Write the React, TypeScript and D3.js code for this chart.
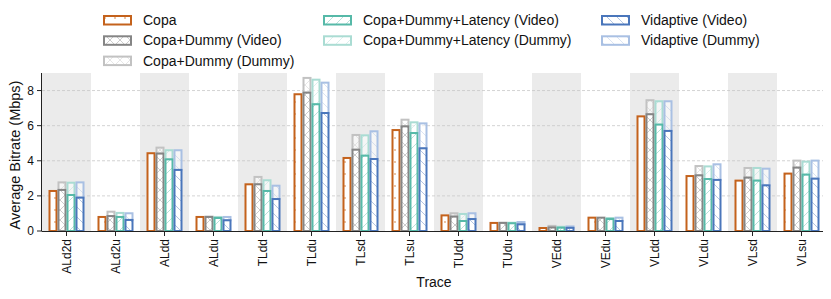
import React from 'react';
import * as d3 from 'd3';

// traces on the x axis
const traces = ['ALd2d', 'ALd2u', 'ALdd', 'ALdu', 'TLdd', 'TLdu', 'TLsd', 'TLsu',
    'TUdd', 'TUdu', 'VEdd', 'VEdu', 'VLdd', 'VLdu', 'VLsd', 'VLsu'];

// average bitrate (Mbps), video flow
const copa = [2.28, 0.80, 4.43, 0.80, 2.66, 7.79, 4.16, 5.75, 0.89, 0.46, 0.17, 0.76, 6.53, 3.13, 2.87, 3.27];
const copaDummyVideo = [2.34, 0.85, 4.41, 0.80, 2.66, 7.88, 4.63, 5.96, 0.82, 0.46, 0.20, 0.76, 6.65, 3.17, 3.04, 3.61];
const copaDummyLatVideo = [2.05, 0.80, 4.08, 0.74, 2.28, 7.22, 4.29, 5.58, 0.57, 0.44, 0.19, 0.68, 6.06, 2.96, 2.87, 3.21];
const vidaptiveVideo = [1.90, 0.63, 3.48, 0.61, 1.82, 6.72, 4.10, 4.71, 0.68, 0.38, 0.18, 0.57, 5.70, 2.91, 2.60, 2.98];

// dummy flow, stacked on top of the video flow
const copaDummyDummy = [0.43, 0.25, 0.34, 0.02, 0.42, 0.84, 0.84, 0.38, 0.19, 0.01, 0.09, 0.00, 0.80, 0.53, 0.55, 0.40];
const copaDummyLatDummy = [0.70, 0.23, 0.52, 0.06, 0.61, 1.40, 1.16, 0.61, 0.40, 0.03, 0.05, 0.06, 1.33, 0.72, 0.72, 0.74];
const vidaptiveDummy = [0.87, 0.38, 1.12, 0.19, 0.76, 1.73, 1.58, 1.42, 0.33, 0.13, 0.08, 0.19, 1.69, 0.89, 0.95, 1.03];

const yTicks = [0, 2, 4, 6, 8];

const groups = [
    {key: 'copa', video: copa, dummy: null, color: '#c4621c', light: null, hatch: 'dot', label: 'Copa', dLabel: null},
    {key: 'cd', video: copaDummyVideo, dummy: copaDummyDummy, color: '#858585', light: '#c2c2c2', hatch: 'x',
        label: 'Copa+Dummy (Video)', dLabel: 'Copa+Dummy (Dummy)'},
    {key: 'cdl', video: copaDummyLatVideo, dummy: copaDummyLatDummy, color: '#56b9a8', light: '#aadcd3', hatch: 'fwd',
        label: 'Copa+Dummy+Latency (Video)', dLabel: 'Copa+Dummy+Latency (Dummy)'},
    {key: 'vid', video: vidaptiveVideo, dummy: vidaptiveDummy, color: '#4a76bb', light: '#a9c0e3', hatch: 'back',
        label: 'Vidaptive (Video)', dLabel: 'Vidaptive (Dummy)'},
];

const W = 831, H = 299;
const left = 42, right = 826, top = 73, bottom = 231;
const font = '"Liberation Sans", Arial, Helvetica, sans-serif';

function Pattern({id, kind, color}: {id: string, kind: string, color: string}) {
    const s = 10;
    const sw = 0.6, op = 0.7;
    let body;
    if (kind === 'dot') {
        body = <circle cx={5} cy={6} r={0.9} fill={color}/>;
    } else if (kind === 'x') {
        body = <g stroke={color} strokeWidth={sw} opacity={op}>
            <line x1={0} y1={0} x2={s} y2={s}/>
            <line x1={s} y1={0} x2={0} y2={s}/>
        </g>;
    } else if (kind === 'fwd') {
        body = <g stroke={color} strokeWidth={sw} opacity={op}>
            <line x1={0} y1={s} x2={s} y2={0}/>
            <line x1={-s} y1={s} x2={0} y2={0}/>
            <line x1={s} y1={2 * s} x2={2 * s} y2={s}/>
        </g>;
    } else {
        body = <g stroke={color} strokeWidth={sw} opacity={op}>
            <line x1={0} y1={0} x2={s} y2={s}/>
            <line x1={-s} y1={0} x2={0} y2={s}/>
            <line x1={s} y1={-s} x2={2 * s} y2={0}/>
        </g>;
    }
    return <pattern id={id} patternUnits="userSpaceOnUse" width={s} height={kind === 'dot' ? 12 : s}>{body}</pattern>;
}

export default function App() {
    const x = d3.scaleBand<string>().domain(traces).range([left, right]).paddingInner(0).paddingOuter(0);
    const inner = d3.scaleBand<string>().domain(groups.map(g => g.key)).range([-18, 18]).padding(0);
    const y = d3.scaleLinear().domain([0, 9]).range([bottom, top]);
    const bw = inner.bandwidth();

    const legendCols = [
        {x: 103, items: [{g: groups[0], light: false}, {g: groups[1], light: false}, {g: groups[1], light: true}]},
        {x: 323, items: [{g: groups[2], light: false}, {g: groups[2], light: true}]},
        {x: 601, items: [{g: groups[3], light: false}, {g: groups[3], light: true}]},
    ];

    return (
        <svg width={W} height={H} style={{position: 'absolute', left: 0, top: 0, background: '#fff'}}
             fontFamily={font}>
            <defs>
                {groups.map(g => <Pattern key={g.key} id={'p-' + g.key} kind={g.hatch}
                                          color={g.hatch === 'dot' ? '#e3a77a' : g.color}/>)}
                {groups.filter(g => g.light).map(g => <Pattern key={g.key} id={'pl-' + g.key} kind={g.hatch}
                                                               color={g.light as string}/>)}
            </defs>

            {/* alternating shaded bands */}
            {traces.map((t, i) => i % 2 === 0 &&
                <rect key={t} x={x(t)} y={top} width={x.bandwidth()} height={bottom - top} fill="#ebebeb"/>)}

            {/* grid */}
            {yTicks.filter(v => v > 0).map(v =>
                <line key={v} x1={left} x2={right - 3} y1={y(v)} y2={y(v)} stroke="#c8c8c8"
                      strokeWidth={0.8} strokeDasharray="3,2"/>)}

            {/* bars */}
            {traces.map((t, i) => {
                const cx = (x(t) as number) + x.bandwidth() / 2;
                return <g key={t}>
                    {groups.map(g => {
                        const bx = cx + (inner(g.key) as number);
                        const v = g.video[i];
                        const d = g.dummy ? g.dummy[i] : 0;
                        return <g key={g.key}>
                            {g.dummy && d > 0 && <>
                                <rect x={bx + 1} y={y(v + d)} width={bw - 2} height={y(v) - y(v + d)}
                                      fill="#ffffff" fillOpacity={0.55}/>
                                <rect x={bx + 1} y={y(v + d)} width={bw - 2} height={y(v) - y(v + d)}
                                      fill={`url(#pl-${g.key})`} stroke={g.light as string} strokeWidth={2}/>
                            </>}
                            <rect x={bx + 1} y={y(v)} width={bw - 2} height={y(0) - y(v)} fill="#fff"/>
                            <rect x={bx + 1} y={y(v)} width={bw - 2} height={y(0) - y(v)}
                                  fill={`url(#p-${g.key})`} stroke={g.color} strokeWidth={2}/>
                        </g>;
                    })}
                </g>;
            })}

            {/* axes */}
            <line x1={left - 0.5} x2={left - 0.5} y1={top} y2={bottom} stroke="#222" strokeWidth={1}/>
            <line x1={left - 0.5} x2={right - 3} y1={bottom + 0.5} y2={bottom + 0.5} stroke="#222" strokeWidth={1}/>
            {yTicks.map(v => <g key={v}>
                <line x1={left - 5} x2={left - 0.5} y1={y(v)} y2={y(v)} stroke="#222"/>
                <text x={left - 8} y={y(v)} dy="0.35em" textAnchor="end" fontSize={12} fill="#111">{v}</text>
            </g>)}
            {traces.map(t => {
                const cx = (x(t) as number) + x.bandwidth() / 2;
                return <g key={t}>
                    <line x1={cx} x2={cx} y1={bottom} y2={bottom + 5} stroke="#222"/>
                    <text transform={`translate(${cx},${bottom + 8}) rotate(-90)`} dy="0.35em" textAnchor="end"
                          fontSize={12} fill="#111">{t}</text>
                </g>;
            })}
            <text x={(left + right) / 2} y={287} textAnchor="middle" fontSize={14} fill="#111">Trace</text>
            <text transform={`translate(20,${(top + bottom) / 2 + 3}) rotate(-90)`} textAnchor="middle"
                  fontSize={14.5} fill="#111">Average Bitrate (Mbps)</text>

            {/* legend */}
            {legendCols.map((col, ci) => <g key={ci}>
                {col.items.map((it, ri) => {
                    const yy = 15 + ri * 20.3;
                    const g = it.g;
                    const c = it.light ? g.light as string : g.color;
                    const pid = it.light ? 'pl-' + g.key : 'p-' + g.key;
                    return <g key={ri}>
                        <rect x={col.x + 1} y={yy + 1} width={27} height={8.5} fill="#fff"/>
                        <rect x={col.x + 1} y={yy + 1} width={27} height={8.5} fill={`url(#${pid})`}
                              stroke={c} strokeWidth={2}/>
                        <text x={col.x + 40} y={yy + 5} dy="0.35em" fontSize={14} fill="#111">
                            {it.light ? g.dLabel : (g.key === 'copa' ? 'Copa' : g.label)}
                        </text>
                    </g>;
                })}
            </g>)}
        </svg>
    );
}
